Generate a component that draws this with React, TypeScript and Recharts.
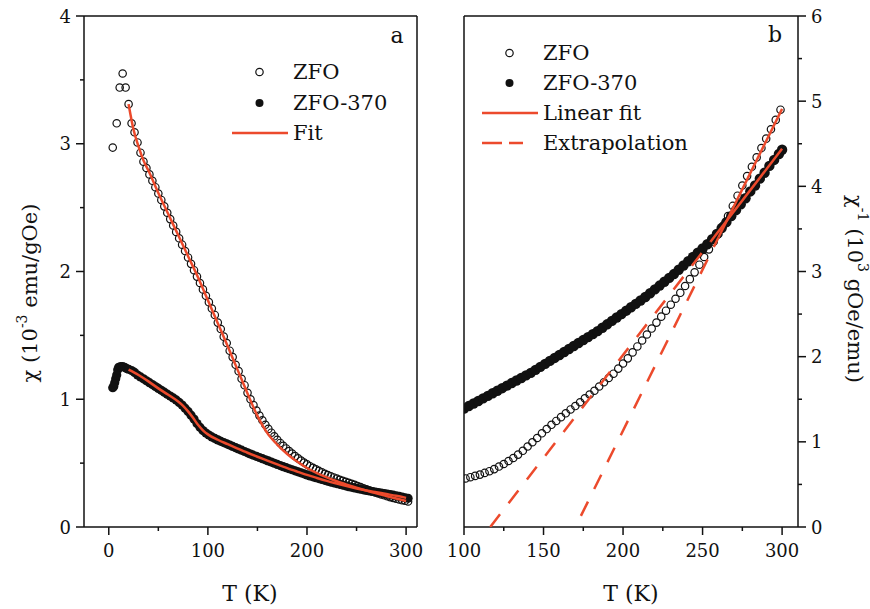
import React from 'react';
import { ComposedChart, Scatter, Line, XAxis, YAxis, ReferenceLine, Legend } from 'recharts';

const FONT = '"DejaVu Serif", "Liberation Serif", serif';
const RED = '#EC4A2C';
const INK = '#111111';

// ---------- Panel a : chi (10^-3 emu/gOe) vs T (K) ----------
const aZfoT = [4, 8, 11, 14, 17, 20, 23, 26, 29, 32, 35, 38, 41, 44, 47, 50, 53, 56, 59, 62, 65, 68, 71, 74, 77, 80, 83, 86, 89, 92, 95, 98, 101, 104, 107, 110, 113, 116, 119, 122, 125, 128, 131, 134, 137, 140, 143, 146, 149, 152, 155, 158, 161, 164, 167, 170, 173, 176, 179, 182, 185, 188, 191, 194, 197, 200, 203, 206, 209, 212, 215, 218, 221, 224, 227, 230, 233, 236, 239, 242, 245, 248, 251, 254, 257, 260, 263, 266, 269, 272, 275, 278, 281, 284, 287, 290, 293, 296, 299, 302];
const aZfoChi = [2.97, 3.16, 3.44, 3.55, 3.44, 3.31, 3.16, 3.09, 3.01, 2.93, 2.86, 2.81, 2.76, 2.71, 2.66, 2.61, 2.56, 2.51, 2.46, 2.41, 2.36, 2.31, 2.26, 2.21, 2.16, 2.11, 2.06, 2.01, 1.96, 1.91, 1.86, 1.81, 1.76, 1.71, 1.66, 1.60, 1.55, 1.49, 1.44, 1.38, 1.33, 1.27, 1.22, 1.16, 1.11, 1.05, 1.00, 0.955, 0.912, 0.872, 0.835, 0.80, 0.768, 0.738, 0.71, 0.683, 0.658, 0.635, 0.615, 0.595, 0.575, 0.555, 0.537, 0.520, 0.505, 0.490, 0.476, 0.463, 0.451, 0.439, 0.428, 0.417, 0.407, 0.397, 0.388, 0.379, 0.370, 0.362, 0.354, 0.346, 0.338, 0.330, 0.321, 0.312, 0.303, 0.295, 0.286, 0.278, 0.270, 0.262, 0.255, 0.248, 0.241, 0.234, 0.228, 0.222, 0.216, 0.210, 0.205, 0.200];

const a370T = [4, 5, 6, 7, 8, 9, 10, 12, 14, 16, 18, 20, 23, 26, 29, 32, 35, 38, 41, 44, 47, 50, 53, 56, 59, 62, 65, 68, 71, 74, 77, 80, 83, 86, 89, 92, 95, 98, 101, 104, 107, 110, 113, 116, 119, 122, 125, 128, 131, 134, 137, 140, 143, 146, 149, 152, 155, 158, 161, 164, 167, 170, 173, 176, 179, 182, 185, 188, 191, 194, 197, 200, 203, 206, 209, 212, 215, 218, 221, 224, 227, 230, 233, 236, 239, 242, 245, 248, 251, 254, 257, 260, 263, 266, 269, 272, 275, 278, 281, 284, 287, 290, 293, 296, 299, 302];
const a370Chi = [1.09, 1.10, 1.13, 1.16, 1.19, 1.23, 1.25, 1.255, 1.255, 1.25, 1.24, 1.235, 1.225, 1.21, 1.19, 1.175, 1.16, 1.145, 1.13, 1.115, 1.10, 1.085, 1.07, 1.055, 1.04, 1.025, 1.01, 0.995, 0.975, 0.955, 0.93, 0.905, 0.875, 0.845, 0.81, 0.78, 0.755, 0.735, 0.72, 0.705, 0.693, 0.682, 0.671, 0.661, 0.651, 0.641, 0.631, 0.621, 0.611, 0.601, 0.591, 0.581, 0.571, 0.562, 0.553, 0.544, 0.535, 0.526, 0.517, 0.508, 0.499, 0.490, 0.481, 0.472, 0.464, 0.456, 0.448, 0.440, 0.432, 0.424, 0.416, 0.408, 0.400, 0.393, 0.386, 0.379, 0.372, 0.365, 0.358, 0.352, 0.346, 0.340, 0.334, 0.328, 0.322, 0.316, 0.311, 0.306, 0.301, 0.296, 0.291, 0.286, 0.282, 0.278, 0.274, 0.270, 0.266, 0.262, 0.258, 0.254, 0.249, 0.244, 0.239, 0.234, 0.229, 0.225];

const aFitZfoT = [20, 25, 30, 35, 40, 50, 60, 70, 80, 90, 100, 110, 120, 130, 140, 150, 160, 170, 180, 190, 200, 210, 220, 230, 240, 250, 260, 270, 280, 290, 300];
const aFitZfoChi = [3.31, 3.11, 2.98, 2.87, 2.79, 2.615, 2.45, 2.285, 2.12, 1.955, 1.775, 1.595, 1.415, 1.23, 1.045, 0.87, 0.735, 0.645, 0.572, 0.512, 0.462, 0.422, 0.388, 0.358, 0.332, 0.308, 0.285, 0.263, 0.243, 0.223, 0.204];

const aFit370T = [20, 30, 40, 50, 60, 70, 75, 80, 85, 90, 95, 100, 110, 120, 130, 140, 150, 160, 170, 180, 190, 200, 210, 220, 230, 240, 250, 260, 270, 280, 290, 300];
const aFit370Chi = [1.232, 1.19, 1.14, 1.085, 1.035, 0.982, 0.948, 0.905, 0.855, 0.80, 0.757, 0.725, 0.683, 0.648, 0.614, 0.581, 0.550, 0.520, 0.490, 0.461, 0.434, 0.408, 0.384, 0.361, 0.340, 0.320, 0.302, 0.286, 0.272, 0.258, 0.244, 0.228];

// ---------- Panel b : 1/chi (10^3 gOe/emu) vs T (K) ----------
const bZfoT = [101, 104, 107, 110, 113, 116, 119, 122, 125, 128, 131, 134, 137, 140, 143, 146, 149, 152, 155, 158, 161, 164, 167, 170, 173, 176, 179, 182, 185, 188, 191, 194, 197, 200, 203, 206, 209, 212, 215, 218, 221, 224, 227, 230, 233, 236, 239, 242, 245, 248, 251, 254, 257, 260, 263, 266, 269, 272, 275, 278, 281, 284, 287, 290, 293, 296, 299];
const bZfoInv = [0.57, 0.585, 0.60, 0.615, 0.635, 0.655, 0.68, 0.71, 0.74, 0.775, 0.81, 0.85, 0.895, 0.945, 0.995, 1.045, 1.10, 1.15, 1.20, 1.245, 1.29, 1.335, 1.38, 1.42, 1.465, 1.51, 1.555, 1.60, 1.65, 1.70, 1.75, 1.80, 1.86, 1.92, 1.98, 2.05, 2.12, 2.19, 2.26, 2.33, 2.40, 2.47, 2.54, 2.61, 2.68, 2.75, 2.83, 2.91, 2.99, 3.08, 3.17, 3.26, 3.35, 3.44, 3.54, 3.65, 3.77, 3.89, 4.01, 4.12, 4.23, 4.34, 4.45, 4.56, 4.67, 4.78, 4.90];

const b370T = [100, 103, 106, 109, 112, 115, 118, 121, 124, 127, 130, 133, 136, 139, 142, 145, 148, 151, 154, 157, 160, 163, 166, 169, 172, 175, 178, 181, 184, 187, 190, 193, 196, 199, 202, 205, 208, 211, 214, 217, 220, 223, 226, 229, 232, 235, 238, 241, 244, 247, 250, 253, 256, 259, 262, 265, 268, 271, 274, 277, 280, 283, 286, 289, 292, 295, 298, 300];
const b370Inv = [1.39, 1.42, 1.45, 1.48, 1.51, 1.54, 1.57, 1.60, 1.63, 1.66, 1.69, 1.72, 1.75, 1.78, 1.81, 1.845, 1.88, 1.915, 1.95, 1.985, 2.02, 2.055, 2.09, 2.125, 2.16, 2.195, 2.23, 2.265, 2.30, 2.34, 2.38, 2.42, 2.46, 2.50, 2.54, 2.58, 2.62, 2.66, 2.70, 2.745, 2.79, 2.835, 2.88, 2.925, 2.97, 3.02, 3.07, 3.12, 3.17, 3.22, 3.27, 3.32, 3.38, 3.44, 3.51, 3.58, 3.65, 3.72, 3.79, 3.86, 3.94, 4.01, 4.09, 4.16, 4.24, 4.31, 4.38, 4.43];

const bZfoFitT = [260, 300];
const bZfoFitInv = [3.40, 4.91];
const bZfoExtT = [173.5, 260];
const bZfoExtInv = [0.13, 3.40];
const b370FitT = [255, 300];
const b370FitInv = [3.35, 4.44];
const b370ExtT = [116.5, 255];
const b370ExtInv = [0, 3.35];

// ---------- ticks & legend labels ----------
const aXTicks = [0, 50, 100, 150, 200, 250, 300];
const aXMajor = [0, 100, 200, 300];
const aYTicks = [0, 0.5, 1, 1.5, 2, 2.5, 3, 3.5, 4];
const aYMajor = [0, 1, 2, 3, 4];
const bXTicks = [100, 125, 150, 175, 200, 225, 250, 275, 300];
const bXMajor = [100, 150, 200, 250, 300];
const bYTicks = [0, 0.5, 1, 1.5, 2, 2.5, 3, 3.5, 4, 4.5, 5, 5.5, 6];
const bYMajor = [0, 1, 2, 3, 4, 5, 6];

const aLegendNames = ['ZFO', 'ZFO-370', 'Fit'];
const bLegendNames = ['ZFO', 'ZFO-370', 'Linear fit', 'Extrapolation'];

const zip = (xs: number[], ys: number[]) =>
  xs.slice(0, Math.min(xs.length, ys.length)).map((x, i) => ({ x, y: ys[i] }));

const OpenDot = (p: any) => (
  <circle cx={p.cx} cy={p.cy} r={3.7} fill="none" stroke={INK} strokeWidth={1.2} />
);
const FilledDotA = (p: any) => <circle cx={p.cx} cy={p.cy} r={4.6} fill={INK} />;
const FilledDotB = (p: any) => <circle cx={p.cx} cy={p.cy} r={5.2} fill={INK} />;

const makeXTick = (majors: number[]) => (props: any) => {
  const { x, y, payload } = props;
  const major = majors.includes(payload.value);
  return (
    <g>
      <line x1={x} x2={x} y1={y} y2={y + (major ? 8 : 4)} stroke={INK} strokeWidth={1.5} />
      {major && (
        <text x={x} y={y + 30} textAnchor="middle" fontSize={18} fontFamily={FONT} fill={INK}>
          {payload.value}
        </text>
      )}
    </g>
  );
};

const makeYTick = (majors: number[], side: 'left' | 'right') => (props: any) => {
  const { x, y, payload } = props;
  const major = majors.includes(payload.value);
  const len = major ? 8 : 4;
  const dir = side === 'left' ? -1 : 1;
  return (
    <g>
      <line x1={x} x2={x + dir * len} y1={y} y2={y} stroke={INK} strokeWidth={1.5} />
      {major && (
        <text
          x={x + dir * 13}
          y={y + 6.5}
          textAnchor={side === 'left' ? 'end' : 'start'}
          fontSize={18}
          fontFamily={FONT}
          fill={INK}
        >
          {payload.value}
        </text>
      )}
    </g>
  );
};

const LegendIcon = ({ kind }: { kind: string }) => (
  <svg width={60} height={30} style={{ display: 'block', flex: 'none' }}>
    {kind === 'open' && <circle cx={28.5} cy={15} r={3.7} fill="none" stroke={INK} strokeWidth={1.2} />}
    {kind === 'filled' && <circle cx={28.5} cy={15} r={4} fill={INK} />}
    {kind === 'line' && <line x1={1} x2={57} y1={15} y2={15} stroke={RED} strokeWidth={2.5} />}
    {kind === 'dash' && (
      <line x1={1} x2={42} y1={15} y2={15} stroke={RED} strokeWidth={2.5} strokeDasharray="20 7" />
    )}
  </svg>
);

const makeLegend = (names: string[], kinds: string[], rowH: number) => () => (
  <div style={{ fontFamily: FONT, fontSize: 21, color: INK }}>
    {names.map((n, i) => (
      <div key={n} style={{ display: 'flex', alignItems: 'center', height: rowH }}>
        <LegendIcon kind={kinds[i]} />
        <span style={{ marginLeft: 2, lineHeight: rowH + 'px', whiteSpace: 'nowrap' }}>{n}</span>
      </div>
    ))}
  </div>
);

const axisLine = { stroke: INK, strokeWidth: 1.5 };

const PanelA = () => (
  <ComposedChart width={440} height={609} margin={{ top: 16, right: 23, left: 24, bottom: 32 }}>
    <XAxis
      dataKey="x"
      type="number"
      domain={[-25, 311]}
      allowDataOverflow
      ticks={aXTicks}
      interval={0}
      height={50}
      tickSize={0}
      tickMargin={0}
      tickLine={false}
      axisLine={axisLine}
      tick={makeXTick(aXMajor)}
      label={{
        content: () => (
          <text x={250} y={601} textAnchor="middle" fontSize={22} fontFamily={FONT} fill={INK}>
            T (K)
          </text>
        ),
      }}
    />
    <YAxis
      type="number"
      domain={[0, 4]}
      allowDataOverflow
      ticks={aYTicks}
      interval={0}
      width={60}
      tickSize={0}
      tickMargin={0}
      tickLine={false}
      axisLine={axisLine}
      tick={makeYTick(aYMajor, 'left')}
      label={{
        content: () => (
          <text
            x={30}
            y={293}
            transform="rotate(-90 30 293)"
            textAnchor="middle"
            dominantBaseline="central"
            fontSize={21}
            fontFamily={FONT}
            fill={INK}
          >
            χ (10<tspan dy={-8} fontSize={14}>-3</tspan>
            <tspan dy={8}> emu/gOe)</tspan>
          </text>
        ),
      }}
    />
    <ReferenceLine
      y={4}
      stroke={INK}
      strokeWidth={1.5}
      label={{
        content: () => (
          <text x={397} y={43} textAnchor="middle" fontSize={22} fontFamily={FONT} fill={INK}>
            a
          </text>
        ),
      }}
    />
    <ReferenceLine x={311} stroke={INK} strokeWidth={1.5} />
    <Scatter name="ZFO" data={zip(aZfoT, aZfoChi)} dataKey="y" shape={OpenDot} isAnimationActive={false} />
    <Scatter name="ZFO-370" data={zip(a370T, a370Chi)} dataKey="y" shape={FilledDotA} isAnimationActive={false} />
    <Line
      data={zip(aFitZfoT, aFitZfoChi)}
      dataKey="y"
      type="monotone"
      stroke={RED}
      strokeWidth={2.5}
      dot={false}
      activeDot={false}
      isAnimationActive={false}
      zIndex={700}
    />
    <Line
      data={zip(aFit370T, aFit370Chi)}
      dataKey="y"
      type="monotone"
      stroke={RED}
      strokeWidth={2.5}
      dot={false}
      activeDot={false}
      isAnimationActive={false}
      zIndex={700}
    />
    <Legend
      layout="vertical"
      align="center"
      verticalAlign="middle"
      wrapperStyle={{ left: 231, top: 57, width: 'auto', height: 'auto' }}
      content={makeLegend(aLegendNames, ['open', 'filled', 'line'], 30.5)}
    />
  </ComposedChart>
);

const PanelB = () => (
  <ComposedChart width={440} height={609} margin={{ top: 16, right: 12, left: 34, bottom: 32 }}>
    <XAxis
      dataKey="x"
      type="number"
      domain={[100, 310]}
      allowDataOverflow
      ticks={bXTicks}
      interval={0}
      height={50}
      tickSize={0}
      tickMargin={0}
      tickLine={false}
      axisLine={axisLine}
      tick={makeXTick(bXMajor)}
      label={{
        content: () => (
          <text x={201} y={601} textAnchor="middle" fontSize={22} fontFamily={FONT} fill={INK}>
            T (K)
          </text>
        ),
      }}
    />
    <YAxis
      orientation="right"
      type="number"
      domain={[0, 6]}
      allowDataOverflow
      ticks={bYTicks}
      interval={0}
      width={60}
      tickSize={0}
      tickMargin={0}
      tickLine={false}
      axisLine={axisLine}
      tick={makeYTick(bYMajor, 'right')}
      label={{
        content: () => (
          <text
            x={425}
            y={289}
            transform="rotate(90 425 289)"
            textAnchor="middle"
            dominantBaseline="central"
            fontSize={21}
            fontFamily={FONT}
            fill={INK}
          >
            χ<tspan dy={-8} fontSize={14}>-1</tspan>
            <tspan dy={8}> (10</tspan>
            <tspan dy={-8} fontSize={14}>3</tspan>
            <tspan dy={8}> gOe/emu)</tspan>
          </text>
        ),
      }}
    />
    <ReferenceLine
      y={6}
      stroke={INK}
      strokeWidth={1.5}
      label={{
        content: () => (
          <text x={345} y={42} textAnchor="middle" fontSize={22} fontFamily={FONT} fill={INK}>
            b
          </text>
        ),
      }}
    />
    <ReferenceLine x={100} stroke={INK} strokeWidth={1.5} />
    <Scatter name="ZFO" data={zip(bZfoT, bZfoInv)} dataKey="y" shape={OpenDot} isAnimationActive={false} />
    <Scatter name="ZFO-370" data={zip(b370T, b370Inv)} dataKey="y" shape={FilledDotB} isAnimationActive={false} />
    <Line
      data={zip(bZfoExtT, bZfoExtInv)}
      dataKey="y"
      type="linear"
      stroke={RED}
      strokeWidth={2.5}
      strokeDasharray="16 14"
      dot={false}
      activeDot={false}
      isAnimationActive={false}
      zIndex={700}
    />
    <Line
      data={zip(b370ExtT, b370ExtInv)}
      dataKey="y"
      type="linear"
      stroke={RED}
      strokeWidth={2.5}
      strokeDasharray="16 14"
      dot={false}
      activeDot={false}
      isAnimationActive={false}
      zIndex={700}
    />
    <Line
      data={zip(bZfoFitT, bZfoFitInv)}
      dataKey="y"
      type="linear"
      stroke={RED}
      strokeWidth={2.5}
      dot={false}
      activeDot={false}
      isAnimationActive={false}
      zIndex={700}
    />
    <Line
      data={zip(b370FitT, b370FitInv)}
      dataKey="y"
      type="linear"
      stroke={RED}
      strokeWidth={2.5}
      dot={false}
      activeDot={false}
      isAnimationActive={false}
      zIndex={700}
    />
    <Legend
      layout="vertical"
      align="center"
      verticalAlign="middle"
      wrapperStyle={{ left: 51, top: 38, width: 'auto', height: 'auto' }}
      content={makeLegend(bLegendNames, ['open', 'filled', 'line', 'dash'], 30)}
    />
  </ComposedChart>
);

export default function App() {
  return (
    <div
      style={{
        position: 'absolute',
        left: 0,
        top: 0,
        width: 870,
        height: 609,
        background: '#fff',
        fontFamily: FONT,
      }}
    >
      <div style={{ position: 'absolute', left: 0, top: 0 }}>
        <PanelA />
      </div>
      <div style={{ position: 'absolute', left: 430, top: 0 }}>
        <PanelB />
      </div>
    </div>
  );
}
